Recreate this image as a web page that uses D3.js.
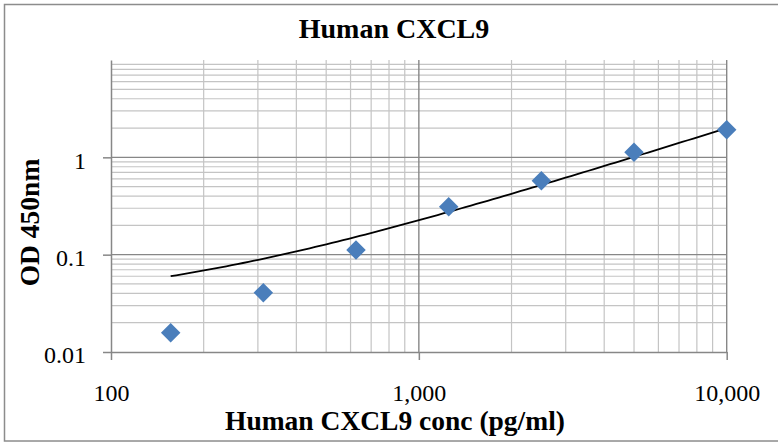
<!DOCTYPE html>
<html lang="en">
<head>
    <meta charset="UTF-8">
    <title>Human CXCL9</title>
    <script src="https://d3js.org/d3.v7.min.js"></script>
    <style>
        body { margin: 0; background: #fff; }
        text { font-family: "Liberation Serif", "DejaVu Serif", serif; fill: #000; }
    </style>
</head>
<body>
<svg id="chart" width="778" height="443"></svg>

<script>
    // standard curve data (serial dilution)
    const conc = [156.25, 312.5, 625, 1250, 2500, 5000, 10000];
    const od = [0.0158, 0.0407, 0.1117, 0.311, 0.575, 1.127, 1.923];
    const xTicks = [100, 1000, 10000];
    const yTicks = [0.01, 0.1, 1];

    const MARKER_COLOR = '#4a7ebb';
    const MAJOR_GRID = '#878787';
    const MINOR_GRID = '#c4c4c4';

    const svg = d3.select('#chart');
    const plotLeft = 111, plotRight = 726.7, plotTop = 60, plotBottom = 352;

    const x = d3.scaleLog().domain([100, 10000]).range([plotLeft, plotRight]);
    const y = d3.scaleLog().domain([0.01, 10]).range([plotBottom, plotTop]);

    // chart frame
    svg.append('rect')
        .attr('x', 4.5).attr('y', 4.5)
        .attr('width', 790).attr('height', 436.5)
        .attr('fill', 'none')
        .attr('stroke', '#8c8c8c')
        .attr('stroke-width', 1.5);

    // minor grid values inside each decade
    const minorX = [];
    [100, 1000].forEach(d => { for (let i = 2; i <= 9; i++) minorX.push(d * i); });
    const minorY = [];
    [0.01, 0.1, 1].forEach(d => { for (let i = 2; i <= 9; i++) minorY.push(d * i); });

    const grid = svg.append('g');
    grid.selectAll('.minor-x').data(minorX).enter().append('line')
        .attr('x1', d => x(d)).attr('x2', d => x(d))
        .attr('y1', plotTop).attr('y2', plotBottom)
        .attr('stroke', MINOR_GRID).attr('stroke-width', 1.2);
    grid.selectAll('.minor-y').data(minorY).enter().append('line')
        .attr('y1', d => y(d)).attr('y2', d => y(d))
        .attr('x1', plotLeft).attr('x2', plotRight)
        .attr('stroke', MINOR_GRID).attr('stroke-width', 1.2);
    grid.selectAll('.major-x').data([1000, 10000]).enter().append('line')
        .attr('x1', d => x(d)).attr('x2', d => x(d))
        .attr('y1', plotTop).attr('y2', plotBottom)
        .attr('stroke', MAJOR_GRID).attr('stroke-width', 1.4);
    grid.selectAll('.major-y').data([0.1, 1]).enter().append('line')
        .attr('y1', d => y(d)).attr('y2', d => y(d))
        .attr('x1', plotLeft).attr('x2', plotRight)
        .attr('stroke', MAJOR_GRID).attr('stroke-width', 1.4);

    // axes
    const xaxis = d3.axisBottom(x).tickValues(xTicks).tickSize(8).tickSizeOuter(0).tickPadding(24)
        .tickFormat(d3.format(','));
    const yaxis = d3.axisLeft(y).tickValues(yTicks).tickSize(8).tickSizeOuter(0).tickPadding(17)
        .tickFormat(d => d3.format('')(d));

    const gx = svg.append('g')
        .attr('transform', `translate(0, ${plotBottom})`)
        .call(xaxis);
    const gy = svg.append('g')
        .attr('transform', `translate(${plotLeft}, 0)`)
        .call(yaxis);

    [gx, gy].forEach(g => {
        g.select('.domain').attr('stroke', MAJOR_GRID).attr('stroke-width', 1.5);
        g.selectAll('.tick line').attr('stroke', MAJOR_GRID).attr('stroke-width', 1.5);
        g.selectAll('.tick text')
            .style('font-family', '"Liberation Serif", serif')
            .style('font-size', '24px')
            .attr('fill', '#000');
    });
    gy.selectAll('.tick text').attr('dy', '0.45em');

    // linear trendline (least squares) drawn across the data range
    const n = conc.length;
    const mx = d3.mean(conc), my = d3.mean(od);
    const slope = d3.sum(conc, (c, i) => (c - mx) * (od[i] - my)) / d3.sum(conc, c => (c - mx) ** 2);
    const intercept = my - slope * mx;
    const trendX = d3.range(0, 101).map(i => Math.pow(10, Math.log10(conc[0]) + i / 100 * (Math.log10(conc[n - 1]) - Math.log10(conc[0]))));

    svg.append('path')
        .datum(trendX)
        .attr('fill', 'none')
        .attr('stroke', '#000')
        .attr('stroke-width', 1.8)
        .attr('d', d3.line()
            .x(d => x(d))
            .y(d => y(intercept + slope * d)));

    // diamond markers
    svg.selectAll('.pt')
        .data(conc)
        .enter()
        .append('path')
        .attr('d', d3.symbol().type(d3.symbolSquare).size(190))
        .attr('fill', MARKER_COLOR)
        .attr('transform', (d, i) => `translate(${x(d)}, ${y(od[i])}) rotate(45)`);

    // titles
    svg.append('text')
        .attr('x', 394).attr('y', 38)
        .attr('text-anchor', 'middle')
        .style('font-size', '28px').style('font-weight', 'bold')
        .text('Human CXCL9');

    svg.append('text')
        .attr('x', 395).attr('y', 430)
        .attr('text-anchor', 'middle')
        .style('font-size', '27.5px').style('font-weight', 'bold')
        .text('Human CXCL9 conc (pg/ml)');

    svg.append('text')
        .attr('transform', 'translate(38.5, 222.5) rotate(-90)')
        .attr('text-anchor', 'middle')
        .style('font-size', '27.5px').style('font-weight', 'bold')
        .text('OD 450nm');
</script>
</body>
</html>
